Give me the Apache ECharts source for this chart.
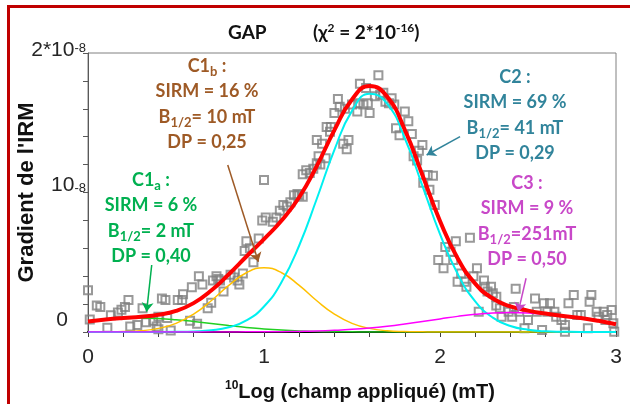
<!DOCTYPE html>
<html>
<head>
<meta charset="utf-8">
<script src="https://cdn.jsdelivr.net/npm/echarts@6/dist/echarts.min.js"></script>
<style>
html, body { margin: 0; padding: 0; background: #fff; }
#chart { width: 630px; height: 404px; }
</style>
</head>
<body>
<div id="chart"></div>
<script>
// log10 of applied field (mT), values in units of 1e-8
var logField = [0, 0.1, 0.2, 0.3, 0.4, 0.5, 0.6, 0.7, 0.8, 0.9, 1, 1.1, 1.2, 1.3, 1.4, 1.5,
	1.6, 1.7, 1.8, 1.9, 2, 2.1, 2.2, 2.3, 2.4, 2.5, 2.6, 2.7, 2.8, 2.9, 3];
var fitC1a = [0.075, 0.088, 0.097, 0.100, 0.097, 0.088, 0.075, 0.061, 0.046, 0.032, 0.022, 0.014, 0.008, 0.004, 0.002, 0.001,
	0, 0, 0, 0, 0, 0, 0, 0, 0, 0, 0, 0, 0, 0, 0];
var fitC1b = [0, 0.001, 0.003, 0.009, 0.026, 0.062, 0.128, 0.224, 0.334, 0.425, 0.460, 0.425, 0.334, 0.224, 0.128, 0.062,
	0.026, 0.009, 0.003, 0.001, 0, 0, 0, 0, 0, 0, 0, 0, 0, 0, 0];
var fitC2 = [0, 0, 0, 0, 0, 0.001, 0.004, 0.012, 0.034, 0.083, 0.183, 0.358, 0.620, 0.955, 1.305, 1.585,
	1.708, 1.635, 1.389, 1.048, 0.702, 0.417, 0.220, 0.103, 0.043, 0.016, 0.005, 0.002, 0, 0, 0];
var fitC3 = [0, 0, 0, 0, 0, 0, 0, 0, 0, 0.001, 0.001, 0.002, 0.004, 0.007, 0.012, 0.019,
	0.029, 0.042, 0.058, 0.076, 0.094, 0.112, 0.127, 0.137, 0.140, 0.137, 0.127, 0.112, 0.100, 0.080, 0.055];
var fitTotal = [0.075, 0.089, 0.100, 0.109, 0.123, 0.151, 0.207, 0.297, 0.414, 0.541, 0.666, 0.799, 0.966, 1.190, 1.447, 1.667,
	1.763, 1.686, 1.450, 1.125, 0.796, 0.529, 0.347, 0.240, 0.183, 0.153, 0.132, 0.114, 0.100, 0.080, 0.055];

var irmPoints = [
	[0.00, 0.30], [0.01, 0.09], [0.05, 0.19], [0.07, 0.18], [0.11, 0.03], [0.13, 0.12], [0.17, 0.14], [0.19, 0.16],
	[0.21, 0.18], [0.23, 0.23], [0.24, 0.04], [0.28, 0.05], [0.31, 0.17], [0.33, 0.07], [0.37, 0.08], [0.39, 0.04],
	[0.40, 0.02], [0.40, 0.11], [0.42, 0.24], [0.44, 0.23], [0.45, 0.10], [0.47, 0.01], [0.51, 0.23], [0.535, 0.23],
	[0.54, 0.27], [0.59, 0.32], [0.58, 0.08], [0.62, 0.06], [0.63, 0.40], [0.65, 0.34], [0.68, 0.17], [0.70, 0.21],
	[0.71, 0.37], [0.73, 0.40], [0.74, 0.38], [0.75, 0.37], [0.77, 0.29], [0.81, 0.41], [0.83, 0.39], [0.85, 0.37],
	[0.86, 0.34], [0.88, 0.42], [0.89, 0.58], [0.90, 0.65], [0.92, 0.60], [0.94, 0.50], [0.97, 0.67], [0.99, 0.80],
	[1.00, 1.09], [1.01, 0.82], [1.05, 0.79], [1.07, 0.82], [1.09, 0.87], [1.11, 0.91], [1.13, 0.90], [1.15, 0.93],
	[1.17, 0.98], [1.19, 0.99], [1.20, 0.98], [1.22, 0.97], [1.22, 1.13], [1.24, 1.16], [1.26, 1.14], [1.28, 1.17],
	[1.30, 1.21], [1.31, 1.26], [1.32, 1.20], [1.35, 1.245], [1.30, 1.376], [1.33, 1.35], [1.356, 1.47], [1.375, 1.435],
	[1.38, 1.47], [1.40, 1.57], [1.42, 1.67], [1.43, 1.615], [1.46, 1.60], [1.45, 1.35], [1.47, 1.31], [1.48, 1.376],
	[1.50, 1.63], [1.53, 1.58], [1.535, 1.64], [1.545, 1.78], [1.565, 1.63], [1.58, 1.75], [1.59, 1.64], [1.60, 1.57],
	[1.63, 1.69], [1.65, 1.84], [1.66, 1.70], [1.678, 1.715], [1.69, 1.65], [1.71, 1.64], [1.725, 1.675], [1.74, 1.63],
	[1.75, 1.46], [1.77, 1.41], [1.80, 1.58], [1.82, 1.51], [1.84, 1.42], [1.85, 1.26], [1.87, 1.23], [1.88, 1.30],
	[1.90, 1.34], [1.905, 1.07], [1.93, 1.125], [1.94, 1.02], [1.96, 1.12], [1.97, 0.91], [1.99, 0.516], [2.02, 0.457],
	[2.03, 0.61], [2.06, 0.575], [2.075, 0.516], [2.09, 0.65], [2.10, 0.36], [2.12, 0.42], [2.14, 0.36], [2.15, 0.325],
	[2.17, 0.676], [2.19, 0.40], [2.21, 0.457], [2.22, 0.146], [2.25, 0.37], [2.255, 0.325], [2.27, 0.29], [2.29, 0.325],
	[2.30, 0.277], [2.32, 0.253], [2.32, 0.19], [2.34, 0.17], [2.35, 0.11], [2.39, 0.146], [2.41, 0.11], [2.42, 0.18],
	[2.43, 0.31], [2.45, 0.146], [2.48, 0.026], [2.50, 0.086], [2.54, 0.24], [2.55, 0.146], [2.58, 0.014], [2.59, 0.206],
	[2.61, 0.146], [2.625, 0.206], [2.65, 0.146], [2.66, 0.11], [2.69, 0.086], [2.71, 0.05], [2.71, 0.002], [2.73, 0.206],
	[2.76, 0.265], [2.78, 0.122], [2.80, 0.122], [2.84, 0.026], [2.85, 0.217], [2.86, 0.265], [2.89, 0.146], [2.90, 0.11],
	[2.93, 0.146], [2.94, 0.086], [2.95, 0.122], [2.975, 0.158], [2.985, 0.062], [2.99, 0.002]
];

// annotation texts
var compNames = ['C1', 'C1', 'C2', 'C3'];
var compSubs = ['a', 'b', '', ''];
var sirmText = ['SIRM = 6 %', 'SIRM = 16 %', 'SIRM = 69 %', 'SIRM = 9 %'];
var b12Text = ['= 2 mT', '= 10 mT', '= 41 mT', '=251mT'];
var dpText = ['DP = 0,40', 'DP = 0,25', 'DP = 0,29', 'DP = 0,50'];
var noteColors = ['#00B050', '#9E5A26', '#31849B', '#C848C8'];
var notePos = [[151, 167], [207, 53], [515, 64], [527, 170]];
// arrows from the notes to the curves, in data units
var arrowFrom = [[0.362, 0.48], [0.794, 1.197], [2.114, 1.40], [2.489, 0.385]];
var arrowTo = [[0.333, 0.146], [0.968, 0.504], [1.924, 1.269], [2.445, 0.146]];

function pairs(ys) {
	return logField.map(function (x, i) { return [x, ys[i]]; });
}

function noteBlock(i) {
	var tk = function (s) { return '{t|' + s + '}'; };
	var txt = tk(compNames[i]) + (compSubs[i] ? '{s|' + compSubs[i] + '}' : '') + tk(' :') + '\n' +
		tk(sirmText[i]) + '\n' +
		tk('B') + '{s|1/2}' + tk(b12Text[i]) + '\n' +
		tk(dpText[i]);
	return {
		type: 'text', x: notePos[i][0], y: notePos[i][1], z: 100,
		style: {
			text: txt, fill: noteColors[i], align: 'center', verticalAlign: 'top',
			rich: {
				t: { fontSize: 18, fontWeight: 'bold', fontFamily: 'Lato', lineHeight: 25.5 },
				s: { fontSize: 13, fontWeight: 'bold', fontFamily: 'Lato', lineHeight: 15, verticalAlign: 'bottom' }
			}
		}
	};
}

var arrowData = [];
for (var i = 0; i < arrowFrom.length; i++) {
	arrowData.push([
		{ coord: arrowFrom[i], lineStyle: { color: noteColors[i], width: 1.5, type: 'solid' } },
		{ coord: arrowTo[i] }
	]);
}

function lineSeries(name, ys, color, width) {
	return {
		name: name, type: 'line', smooth: true, symbol: 'none', data: pairs(ys),
		lineStyle: { color: color, width: width }, silent: true
	};
}

var mycharts = echarts.init(document.getElementById('chart'));
var option = {
	animation: false,
	grid: { left: 88, top: 53, right: 14, bottom: 72, show: true, borderColor: '#808080', borderWidth: 1, outerBoundsMode: 'none' },
	xAxis: {
		type: 'value', min: 0, max: 3, interval: 0.2,
		name: '{s|10}{m|Log (champ appliqué) (mT)}',
		nameLocation: 'middle', nameGap: 48, nameMoveOverlap: false,
		nameTextStyle: {
			color: '#111', padding: [0, 0, 0, 16],
			rich: {
				s: { fontSize: 12, fontWeight: 'bold', fontFamily: 'Liberation Sans', verticalAlign: 'top', lineHeight: 12, color: '#111' },
				m: { fontSize: 20, fontWeight: 'bold', fontFamily: 'Liberation Sans', lineHeight: 24, color: '#111' }
			}
		},
		axisLine: { lineStyle: { color: '#000', width: 2 } },
		axisTick: { length: 5, lineStyle: { color: '#404040' } },
		axisLabel: {
			margin: 15, fontSize: 21, color: '#262626', fontFamily: 'Liberation Sans',
			formatter: function (v) { return Math.abs(v - Math.round(v)) < 1e-6 ? String(Math.round(v)) : ''; }
		},
		splitLine: { show: false }
	},
	yAxis: {
		type: 'value', min: 0, max: 2, interval: 0.2,
		name: "Gradient de l'IRM", nameLocation: 'middle', nameGap: 50, nameMoveOverlap: false,
		nameTextStyle: { fontSize: 22, fontWeight: 'bold', color: '#111', fontFamily: 'Liberation Sans' },
		axisLine: { show: true, lineStyle: { color: '#595959', width: 1 } },
		axisTick: { length: 5, lineStyle: { color: '#595959' } },
		axisLabel: {
			margin: 2, color: '#262626',
			formatter: function (v) {
				if (Math.abs(v) < 1e-6) return '{z|0}';
				if (Math.abs(v - 1) < 1e-6) return '{n1|10}{e|-8}';
				if (Math.abs(v - 2) < 1e-6) return '{n2|2*10}{e|-8}';
				return '';
			},
			rich: {
				z: { fontSize: 21, fontFamily: 'Liberation Sans', lineHeight: 22, padding: [0, 18, 24, 0], color: '#262626' },
				n1: { fontSize: 21, fontFamily: 'Liberation Sans', lineHeight: 22, padding: [0, 0, 15, 0], color: '#262626' },
				n2: { fontSize: 21, fontFamily: 'Liberation Sans', lineHeight: 22, padding: [0, 0, 6, 0], color: '#262626' },
				e: { fontSize: 13, fontFamily: 'Liberation Sans', lineHeight: 13, verticalAlign: 'top', color: '#262626' }
			}
		},
		splitLine: { show: false }
	},
	series: [
		{
			type: 'line', data: [], silent: true,
			markLine: {
				silent: true, symbol: ['none', 'arrow'], symbolSize: 9,
				label: { show: false }, data: arrowData
			}
		},
		lineSeries('C1a', fitC1a, '#22D022', 1.5),
		lineSeries('C1b', fitC1b, '#FFC000', 1.5),
		lineSeries('C2', fitC2, '#00F0F0', 2),
		lineSeries('C3', fitC3, '#FF00FF', 1.5),
		lineSeries('Total', fitTotal, '#FF0000', 4),
		{
			name: 'IRM', type: 'scatter', symbol: 'rect', symbolSize: 8, data: irmPoints, silent: true,
			itemStyle: { color: 'rgba(255,255,255,0)', borderColor: '#808080', borderWidth: 2 }
		}
	],
	graphic: [
		{ type: 'line', shape: { x1: 7, y1: 6.5, x2: 630, y2: 6.5 }, style: { stroke: '#C00000', lineWidth: 3 } },
		{ type: 'line', shape: { x1: 8.5, y1: 5, x2: 8.5, y2: 404 }, style: { stroke: '#C00000', lineWidth: 3 } },
		{
			type: 'text', x: 228, y: 33,
			style: { text: 'GAP', fill: '#111', fontSize: 19, fontWeight: 'bold', fontFamily: 'Lato', verticalAlign: 'middle' }
		},
		{
			type: 'text', x: 313, y: 33,
			style: {
				text: '{a|(χ}{p|2}{a| = 2*10}{p|-16}{a|)}', fill: '#111', verticalAlign: 'middle',
				rich: {
					a: { fontSize: 19, fontWeight: 'bold', fontFamily: 'Lato', lineHeight: 22 },
					p: { fontSize: 12, fontWeight: 'bold', fontFamily: 'Lato', lineHeight: 12, verticalAlign: 'top' }
				}
			}
		},
		noteBlock(0), noteBlock(1), noteBlock(2), noteBlock(3)
	]
};
mycharts.setOption(option);
</script>
</body>
</html>
